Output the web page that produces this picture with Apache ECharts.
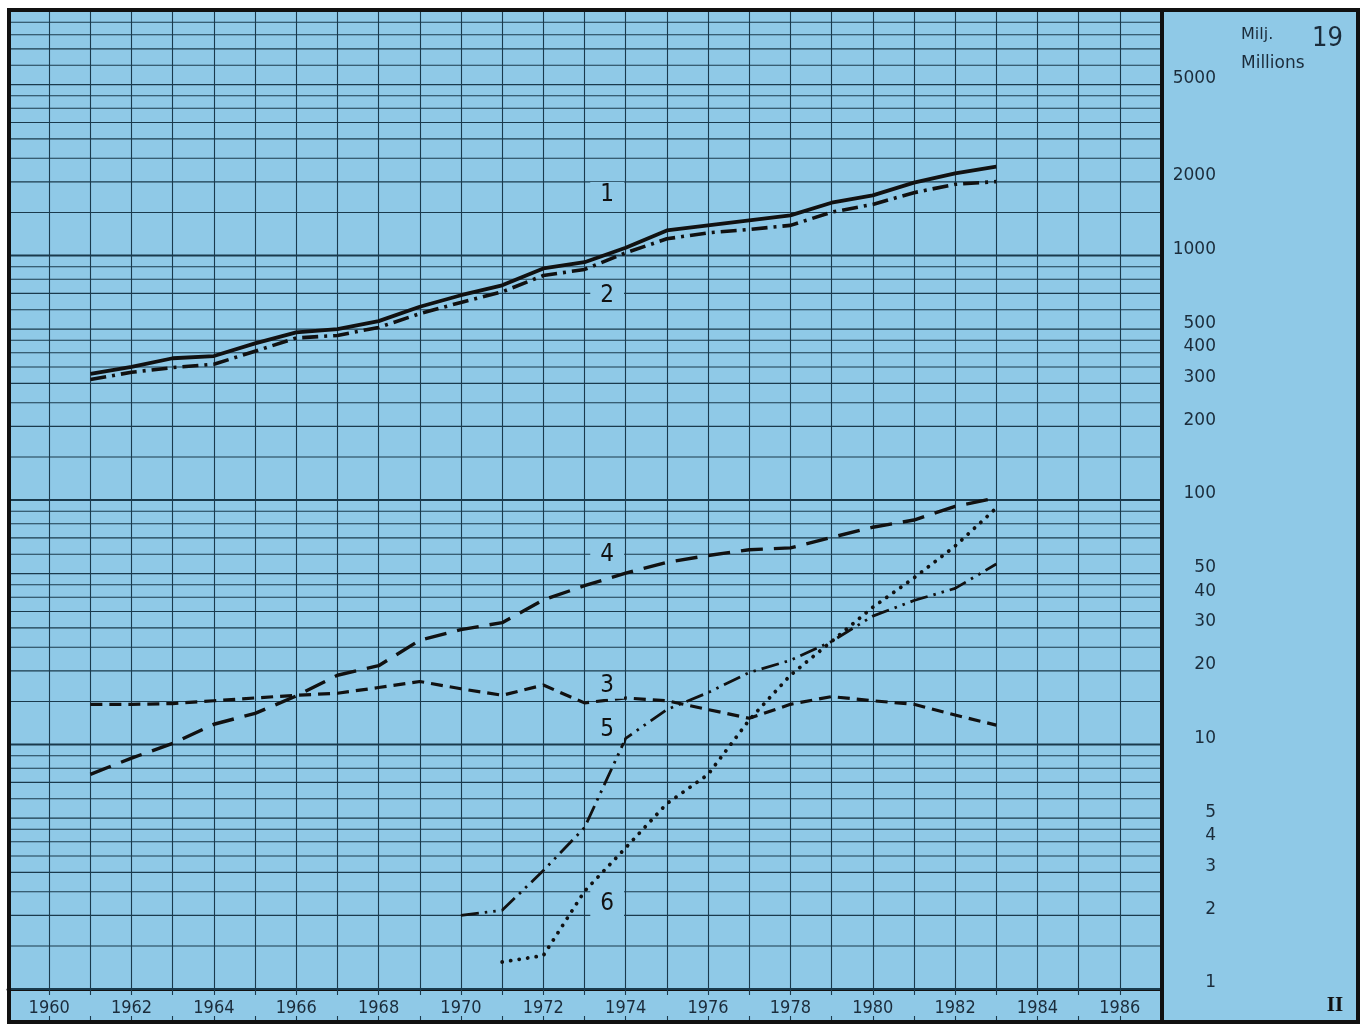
<!DOCTYPE html>
<html><head><meta charset="utf-8">
<script src="https://cdn.jsdelivr.net/npm/echarts@6/dist/echarts.min.js"></script>
<style>html,body{margin:0;padding:0;background:#fff}#c{width:1366px;height:1025px}</style>
</head><body><div id="c"></div>
<script>
// ---- data ----
const years = [1961,1962,1963,1964,1965,1966,1967,1968,1969,1970,1971,1972,1973,1974,1975,1976,1977,1978,1979,1980,1981,1982,1983];
const series1 = [328,350,380,388,437,485,500,539,617,688,755,885,939,1076,1266,1327,1391,1459,1644,1762,1986,2168,2310];
const series2 = [311,333,348,359,406,460,471,508,578,643,710,828,877,1026,1170,1238,1278,1328,1504,1618,1807,1955,2005];
const series3 = [14.6,14.6,14.7,15.1,15.5,15.9,16.2,17.1,18.1,16.9,15.9,17.5,14.8,15.5,15.1,13.9,12.8,14.6,15.7,15.1,14.6,13.2,12.0];
const series4 = [7.55,8.8,10.1,12.1,13.4,15.8,19.2,21.0,26.7,29.5,31.5,39,44.6,50.2,55.6,59.3,62.6,63.7,70.3,77.4,82.8,94.1,102];
const years5 = [1970,1971,1972,1973,1974,1975,1976,1977,1978,1979,1980,1981,1982,1983];
const series5 = [2.0,2.1,3.05,4.57,10.6,13.9,16.3,19.7,22.1,26.4,33.5,38.8,43.5,54.7];
const years6 = [1971,1972,1973,1974,1975,1976,1977,1978,1979,1980,1981,1982,1983];
const series6 = [1.29,1.37,2.51,3.78,5.73,7.54,12.6,19.2,26.4,36.4,48,64.8,92.7];
const xLabelYears = [1960,1962,1964,1966,1968,1970,1972,1974,1976,1978,1980,1982,1984,1986];
const yTickLabels = [5000,2000,1000,500,400,300,200,100,50,40,30,20,10,5,4,3,2,1];
const gridSteps = [1,1.5,2,2.5,3,3.5,4,4.5,5,6,7,8,9];
const decades = [1,10,100,1000];
const tagNames = ['1','2','3','4','5','6'];
const tagYear = 1973.55;
const tagValues = [1767,683,17.4,59.6,11.5,2.23];
const xMin = 1959, xMax = 1987, yMin = 1, yMax = 10000;

// ---- chart ----
const BG = '#8fc9e7', INK = '#111', GRID = '#1a3a4d', TXT = '#1b2c3b';
const COND = '"DejaVu Sans Condensed", "Liberation Sans Narrow", "DejaVu Sans", sans-serif';
const SANS = '"DejaVu Sans", sans-serif';
const zip = (xs, vs) => xs.map((x, i) => [x, vs[i]]);
const gridValues = [];
decades.forEach(d => gridSteps.forEach(m => gridValues.push(+(m * d).toPrecision(6))));
gridValues.push(yMax);

const chart = echarts.init(document.getElementById('c'));
const lineSeries = (name, xs, vs, width, type, cap) => ({
  name, type: 'line', data: zip(xs, vs), showSymbol: false, symbol: 'none', z: 5,
  lineStyle: { color: INK, width, type, cap: cap || 'butt', join: 'round' }
});

chart.setOption({
  animation: false,
  backgroundColor: '#fff',
  grid: { left: 8, right: 205, top: 11, bottom: 36 },
  xAxis: [
    { type: 'value', min: xMin, max: xMax, interval: 1, position: 'bottom',
      axisLine: { show: true, onZero: false, lineStyle: { color: INK, width: 3 } },
      axisTick: { show: true, length: 6, lineStyle: { color: GRID, width: 1.1 } },
      axisLabel: { show: true, margin: 10, fontSize: 18, color: TXT, fontFamily: COND,
        showMinLabel: true, showMaxLabel: true,
        formatter: v => xLabelYears.includes(v) ? String(v) : '' },
      splitLine: { show: true, lineStyle: { color: GRID, width: 1.1 } } },
    { type: 'value', min: xMin, max: xMax, interval: 1, position: 'bottom', offset: 33,
      axisLine: { show: false },
      axisTick: { show: true, inside: true, length: 6, lineStyle: { color: GRID, width: 1.1 } },
      axisLabel: { show: false }, splitLine: { show: false } }
  ],
  yAxis: { type: 'log', logBase: 10, min: yMin, max: yMax, position: 'right',
    axisLine: { show: false }, axisTick: { show: false }, axisLabel: { show: false },
    splitLine: { show: false } },
  series: [
    { type: 'custom', name: 'grid', silent: true, clip: false, z: 1,
      data: gridValues.map(v => [xMin, v]), encode: { x: 0, y: 1 },
      renderItem: (params, api) => {
        const v = api.value(1);
        const a = api.coord([xMin, v]), b = api.coord([xMax, v]);
        const lg = Math.log10(v), major = Math.abs(lg - Math.round(lg)) < 1e-9;
        return { type: 'line', shape: { x1: a[0], y1: a[1], x2: b[0], y2: b[1] },
          style: { stroke: GRID, lineWidth: major ? 2 : 1.1 } };
      } },
    { type: 'custom', name: 'ylabels', silent: true, clip: false, z: 6,
      data: yTickLabels.map(v => [xMax, v]), encode: { x: 0, y: 1 },
      renderItem: (params, api) => {
        const v = api.value(1);
        const p = api.coord([xMax, v]);
        return { type: 'text', x: p[0] + 55, y: p[1] - 6,
          style: { text: String(v), fill: TXT, font: '17px ' + SANS,
            align: 'right', verticalAlign: 'middle' } };
      } },
    { type: 'custom', name: 'tags', silent: true, clip: false, z: 7,
      data: tagValues.map(v => [tagYear, v]), encode: { x: 0, y: 1 },
      renderItem: (params, api) => {
        const p = api.coord([api.value(0), api.value(1)]);
        return { type: 'text', x: p[0], y: p[1],
          style: { text: tagNames[params.dataIndex], fill: INK, font: '24px ' + COND,
            align: 'center', verticalAlign: 'middle', backgroundColor: BG, padding: [1, 10] } };
      } },
    lineSeries('1', years, series1, 3.8, 'solid'),
    lineSeries('2', years, series2, 3.6, [16, 6, 3, 6]),
    lineSeries('3', years, series3, 3.2, [12, 7]),
    lineSeries('4', years, series4, 3.4, [22, 11]),
    lineSeries('5', years5, series5, 2.8, [18, 6, 2.5, 6, 2.5, 6]),
    lineSeries('6', years6, series6, 3.8, [0.1, 8.5], 'round')
  ],
  graphic: { elements: [
    { type: 'rect', z: -100, silent: true, shape: { x: 9, y: 10, width: 1349, height: 1012 }, style: { fill: BG } },
    { type: 'line', z: 100, silent: true, shape: { x1: 1162, y1: 10, x2: 1162, y2: 1022 }, style: { stroke: INK, lineWidth: 4 } },
    { type: 'line', z: 100, silent: true, shape: { x1: 9, y1: 1022, x2: 1162, y2: 1022 }, style: { stroke: INK, lineWidth: 3 } },
    { type: 'rect', z: 100, silent: true, shape: { x: 9, y: 10, width: 1349, height: 1012 }, style: { fill: 'none', stroke: INK, lineWidth: 4 } },
    { type: 'text', z: 100, x: 1241, y: 35, style: { text: 'Milj.', fill: TXT, font: '16px ' + SANS, verticalAlign: 'middle' } },
    { type: 'text', z: 100, x: 1241, y: 64, style: { text: 'Millions', fill: TXT, font: '17px ' + SANS, verticalAlign: 'middle' } },
    { type: 'text', z: 100, x: 1312, y: 39, style: { text: '19', fill: TXT, font: '27px ' + COND, verticalAlign: 'middle' } },
    { type: 'text', z: 100, x: 1335, y: 1006, style: { text: 'II', fill: INK, font: 'bold 21px "Liberation Serif", serif', align: 'center', verticalAlign: 'middle' } }
  ] }
});
</script></body></html>
